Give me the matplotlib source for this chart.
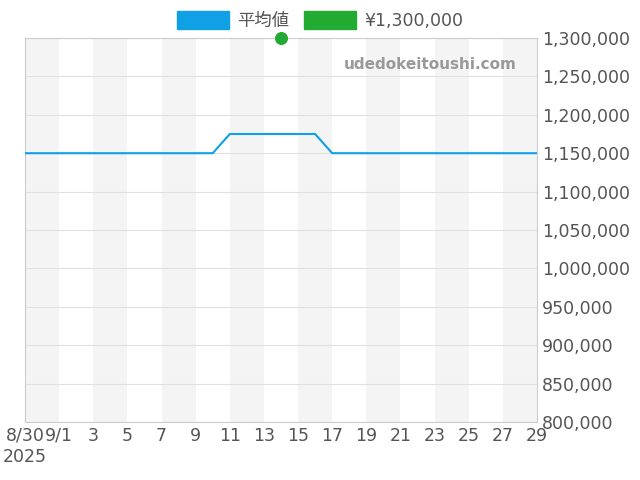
import matplotlib
matplotlib.use("Agg")
import matplotlib.pyplot as plt
import numpy as np
import datetime as dt

dates = ["2025-08-30","2025-08-31"] + [f"2025-09-{d:02d}" for d in range(1,30)]
avg = [1150000]*12 + [1175000]*6 + [1150000]*13
point_date = "2025-09-14"
point_value = 1300000
tick_labels = ["8/30","9/1"] + [str(d) for d in range(3,30,2)]

base = dt.date(2025,8,30)
def idx(s):
    return (dt.date.fromisoformat(s)-base).days
x = [idx(d) for d in dates]

fig = plt.figure(figsize=(6.4,4.8), dpi=100)
ax = fig.add_axes([25/640, 1-422/480, 512/640, 384/480])
for s in range(0,30,4):
    ax.axvspan(s, s+2, color="#f4f4f4", zorder=0, lw=0)
ax.plot(x, avg, color="#0fa0e6", lw=1.5, zorder=3)
ax.scatter([idx(point_date)],[point_value], color="#22aa33", s=70, zorder=4, clip_on=False)
ax.set_xlim(0,30); ax.set_ylim(800000,1300000)
ax.set_yticks(np.arange(800000,1300001,50000))
ax.yaxis.tick_right()
ax.set_yticklabels([f"{v:,}" for v in range(800000,1300001,50000)])
ax.set_xticks([0]+list(range(2,31,2)))
ax.set_xticklabels(["8/30\n2025"]+tick_labels[1:])
ax.grid(axis="y", color="#e0e0e0", lw=0.8)
ax.tick_params(colors="#555555", labelsize=12.5, length=0)
for s in ax.spines.values(): s.set_color("#cccccc")
ax.text(0.96,0.93,"udedokeitoushi.com",transform=ax.transAxes,ha="right",va="center",
        color="#999999",fontsize=11,fontweight="bold")
from matplotlib.patches import Patch
leg = fig.legend(handles=[Patch(color="#0fa0e6",label="平均値"),Patch(color="#22aa33",label="¥1,300,000")],
           loc="upper center", bbox_to_anchor=(0.5,1.01), ncol=2, frameon=False,
           prop={"family":["DejaVu Sans","Noto Sans CJK JP"],"size":12.5}, handlelength=3, handleheight=1.2,
           columnspacing=0.8, handletextpad=0.5)
for t in leg.get_texts(): t.set_color("#555555")
fig.savefig("out.png", dpi=100)
